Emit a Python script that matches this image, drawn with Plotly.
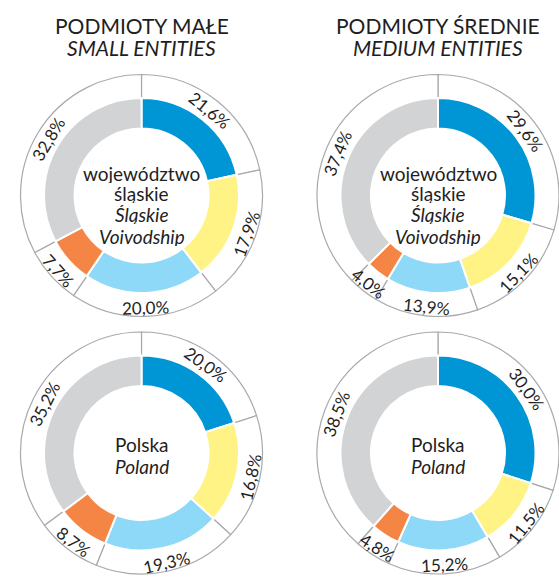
import math
import plotly.graph_objects as go

W, H = 559, 580

categories = ["cat1", "cat2", "cat3", "cat4", "cat5"]
colors = ["#0096D6", "#FFF385", "#8ED8F8", "#F58545", "#D1D3D4"]

small_slaskie = [21.6, 17.9, 20.0, 7.7, 32.8]
medium_slaskie = [29.6, 15.1, 13.9, 4.0, 37.4]
small_poland = [20.0, 16.8, 19.3, 8.7, 35.2]
medium_poland = [30.0, 11.5, 15.2, 4.8, 38.5]

titles_pl = ["PODMIOTY MAŁE", "PODMIOTY ŚREDNIE"]
titles_en = ["SMALL ENTITIES", "MEDIUM ENTITIES"]
center_slaskie = [("województwo", False), ("śląskie", False), ("Śląskie", True), ("Voivodship", True)]
center_poland = [("Polska", False), ("Poland", True)]

FONT = "Lato"
TXT = "#1e1e1e"

# layout geometry (pixels)
R_OUT = 121
R_COL = 97.5
R_IN = 67
charts = [
    (small_slaskie, 141.5, 195.5, center_slaskie),
    (medium_slaskie, 438, 195.5, center_slaskie),
    (small_poland, 141.5, 453, center_poland),
    (medium_poland, 438, 453, center_poland),
]


def px(x):
    return x / W


def py(y):
    return 1 - y / H


fig = go.Figure()
annotations = []

for vals, cx, cy, center_lines in charts:
    # outer white ring with grey borders
    fig.add_trace(go.Pie(
        labels=categories, values=vals, sort=False, direction="clockwise", rotation=0,
        hole=82 / R_OUT, textinfo="none", hoverinfo="skip", showlegend=False,
        marker=dict(colors=["white"] * 5, line=dict(color="#A7A9AC", width=1.2)),
        domain=dict(x=[px(cx - R_OUT), px(cx + R_OUT)], y=[py(cy + R_OUT), py(cy - R_OUT)]),
    ))
    # colored ring
    fig.add_trace(go.Pie(
        labels=categories, values=vals, sort=False, direction="clockwise", rotation=0,
        hole=R_IN / R_COL, textinfo="none", hoverinfo="skip", showlegend=False,
        marker=dict(colors=colors, line=dict(color="white", width=2)),
        domain=dict(x=[px(cx - R_COL), px(cx + R_COL)], y=[py(cy + R_COL), py(cy - R_COL)]),
    ))
    total = sum(vals)
    cum = 0
    for v in vals:
        mid = (cum + v / 2) / total * 360
        cum += v
        rad = math.radians(mid)
        if mid <= 90:
            ang = mid
            R = 109
        elif mid >= 270:
            ang = mid - 360
            R = 109
        else:
            ang = mid - 180
            R = 112
        x = cx + R * math.sin(rad)
        y = cy - R * math.cos(rad)
        annotations.append(dict(
            x=px(x), y=py(y), xref="paper", yref="paper", showarrow=False,
            text=f"{v:.1f}%".replace(".", ","), textangle=ang,
            font=dict(family=FONT, size=17, color=TXT),
            xanchor="center", yanchor="middle",
        ))
    # center text
    if len(center_lines) == 4:
        ys = [cy - 22, cy - 2, cy + 19, cy + 41]
    else:
        ys = [cy - 9, cy + 13]
    for (t, it), yy in zip(center_lines, ys):
        annotations.append(dict(
            x=px(cx), y=py(yy), xref="paper", yref="paper", showarrow=False,
            text=f"<i>{t}</i>" if it else t, height=19,
            font=dict(family=FONT, size=19, color=TXT),
            xanchor="center", yanchor="middle",
        ))

for i, cx in enumerate([141.5, 438]):
    annotations.append(dict(x=px(cx), y=py(25), xref="paper", yref="paper", showarrow=False,
                            text=titles_pl[i], height=21, font=dict(family=FONT, size=21, color=TXT),
                            xanchor="center", yanchor="middle"))
    annotations.append(dict(x=px(cx), y=py(47), xref="paper", yref="paper", showarrow=False,
                            text=f"<i>{titles_en[i]}</i>", height=21,
                            font=dict(family=FONT, size=21, color=TXT),
                            xanchor="center", yanchor="middle"))

fig.update_layout(
    width=W, height=H, margin=dict(l=0, r=0, t=0, b=0),
    paper_bgcolor="white", plot_bgcolor="white",
    annotations=annotations, showlegend=False,
)

fig.write_html(
    "out.html",
    config={"displayModeBar": False},
    post_script="document.body.style.margin='0';document.body.style.overflow='hidden';",
)
